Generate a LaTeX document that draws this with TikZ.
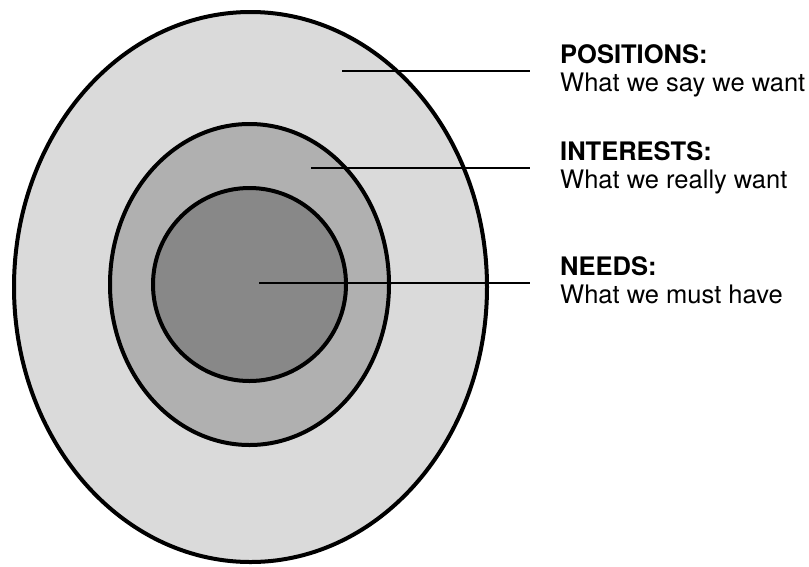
\documentclass[tikz,border=0pt]{standalone}
\usepackage{fontspec}
\setmainfont{TeX Gyre Heros}
\usepackage{tikz}
\usetikzlibrary{shapes.geometric, positioning, calc}
\definecolor{ringOuter}{RGB}{218,218,218}
\definecolor{ringMid}{RGB}{176,176,176}
\definecolor{ringCore}{RGB}{136,136,136}

\begin{document}
\begin{tikzpicture}[x=1pt,y=-1pt,
  ring/.style={ellipse,draw=black,line width=4pt,inner sep=0pt},
  leader/.style={draw=black,line width=2.8pt},
  tag/.style={anchor=base west,align=left,inner sep=0pt,
              font=\fontsize{25.5}{28}\selectfont}]
\useasboundingbox (0,0) rectangle (809,566);

% ===== rings, outer to inner =====
\node[ring,fill=ringOuter,minimum width=473,minimum height=550] (outer) at (250.5,287) {};
\node[ring,fill=ringMid,minimum width=279,minimum height=321] (mid) at (249.5,284.5) {};
\node[ring,fill=ringCore,minimum width=193,minimum height=193] (core) at (249.5,284.5) {};

% start points of the leaders
\coordinate (posIn) at (342,71);
\coordinate (intIn) at (311,168);
\coordinate (needIn) at (259,283);

% ===== labels on the right (base = second line) =====
\node[tag] (posTxt) at (560,91) {\textbf{POSITIONS:}\\What we say we want};
\node[tag] (intTxt) at (560,188) {\textbf{INTERESTS:}\\What we really want};
\node[tag] (needTxt) at (560,303) {\textbf{NEEDS:}\\What we must have};

% leaders from the rings to the labels
\draw[leader] (posIn) -- ([xshift=-30pt]posIn -| posTxt.west);
\draw[leader] (intIn) -- ([xshift=-30pt]intIn -| intTxt.west);
\draw[leader] (needIn) -- ([xshift=-30pt]needIn -| needTxt.west);
\end{tikzpicture}
\end{document}
